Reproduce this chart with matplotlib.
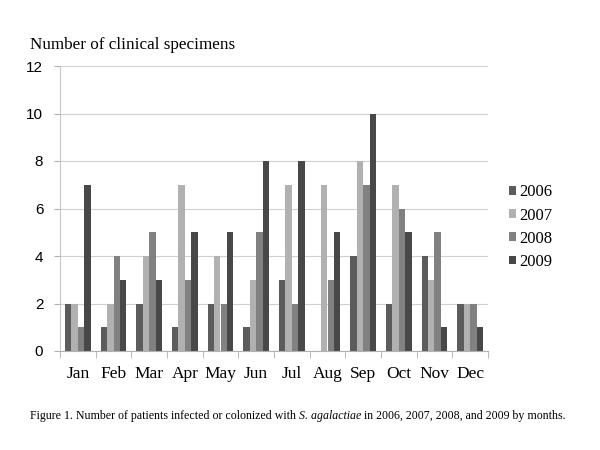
import matplotlib

matplotlib.use("Agg")
import matplotlib.pyplot as plt  # noqa: E402
import numpy as np  # noqa: E402

months = ["Jan", "Feb", "Mar", "Apr", "May", "Jun",
          "Jul", "Aug", "Sep", "Oct", "Nov", "Dec"]
years = ["2006", "2007", "2008", "2009"]
y2006 = [2, 1, 2, 1, 2, 1, 3, 0, 4, 2, 4, 2]
y2007 = [2, 2, 4, 7, 4, 3, 7, 7, 8, 7, 3, 2]
y2008 = [1, 4, 5, 3, 2, 5, 2, 3, 7, 6, 5, 2]
y2009 = [7, 3, 3, 5, 5, 8, 8, 5, 10, 5, 1, 1]
colors = ["#5c5c5c", "#b1b1b1", "#818181", "#484848"]

SERIF = "Liberation Serif"
SANS = "Liberation Sans"

fig = plt.figure(figsize=(6, 4.5), dpi=100)
ax = fig.add_axes([60 / 600, 1 - 351 / 450, 428 / 600, 285 / 450])

x = np.arange(len(months))
w = 0.182
for i, (vals, c, lab) in enumerate(zip([y2006, y2007, y2008, y2009], colors, years)):
    ax.bar(x + (i - 1.5) * w, vals, width=w, color=c, label=lab, zorder=2)

ax.set_xlim(-0.5, len(months) - 0.5)
ax.set_ylim(0, 12)
ax.set_yticks(range(0, 13, 2))
ax.set_yticklabels([str(v) for v in range(0, 13, 2)], fontfamily=SANS, fontsize=11)
ax.yaxis.grid(True, color="#d0d0d0", linewidth=0.8, zorder=0)
ax.set_axisbelow(True)

# month labels centred, ticks on category boundaries
ax.set_xticks(x)
ax.set_xticklabels(months, fontfamily=SERIF, fontsize=12.5)
ax.tick_params(axis="x", length=0, pad=11)
ax.set_xticks(np.arange(-0.5, len(months)), minor=True)
ax.tick_params(axis="x", which="minor", length=5, color="#b0b0b0")
ax.tick_params(axis="y", length=4, color="#b0b0b0", pad=8)

for side in ["top", "right"]:
    ax.spines[side].set_visible(False)
ax.spines["left"].set_color("#c8c8c8")
ax.spines["bottom"].set_color("#b0b0b0")

ax.legend(loc="upper left", bbox_to_anchor=(501 / 600, 1 - 176 / 450),
          bbox_transform=fig.transFigure, frameon=False, borderpad=0,
          prop={"family": SERIF, "size": 12}, handlelength=0.42,
          handleheight=0.42, handletextpad=0.2, labelspacing=0.43)

fig.text(30 / 600, 1 - 49 / 450, "Number of clinical specimens",
         fontfamily=SERIF, fontsize=12.3, va="baseline")

# caption with italic species name
parts = [("Figure 1. Number of patients infected or colonized with ", "normal"),
         ("S. agalactiae", "italic"),
         (" in 2006, 2007, 2008, and 2009 by months.", "normal")]
renderer = fig.canvas.get_renderer()
xpos = 30 / 600
for txt, style in parts:
    t = fig.text(xpos, 1 - 419 / 450, txt, fontfamily=SERIF, fontsize=8.55,
                 style=style, va="baseline")
    bb = t.get_window_extent(renderer=renderer)
    xpos = bb.x1 / fig.bbox.width

fig.savefig("out.png", dpi=100)
